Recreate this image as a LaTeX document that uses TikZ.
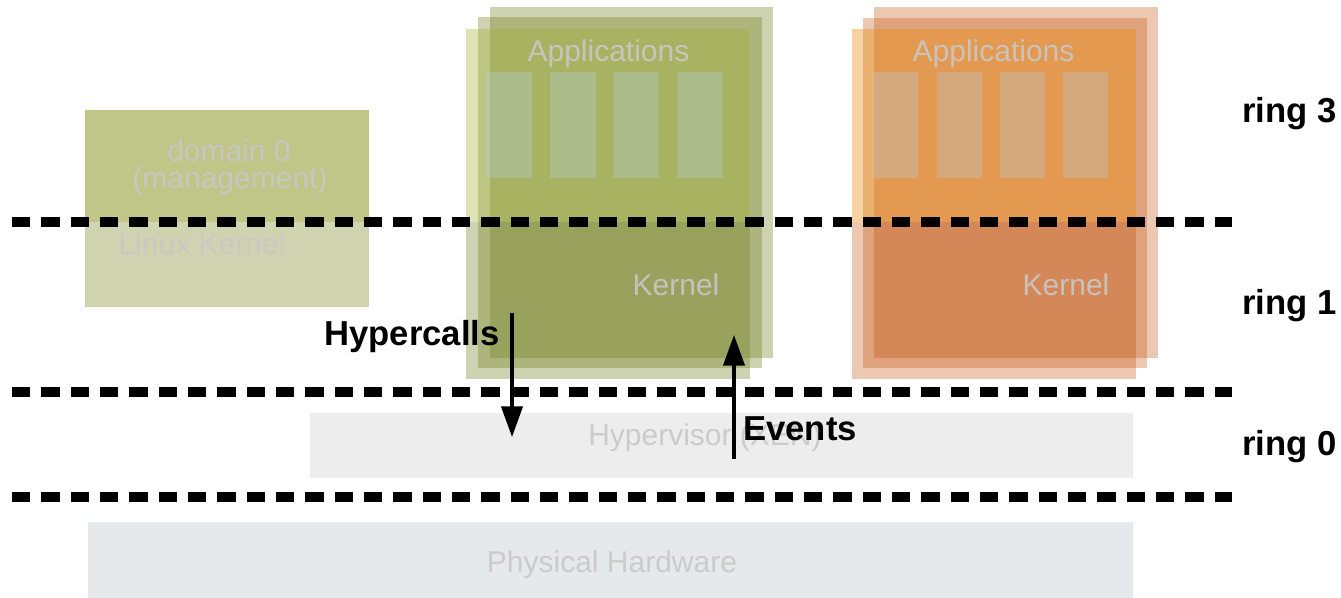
\documentclass[tikz,border=0pt]{standalone}
\usepackage{fontspec}
\setmainfont{Liberation Sans}
\usetikzlibrary{arrows.meta}

% palette
\definecolor{domtop}{HTML}{BFC688}
\definecolor{dombot}{HTML}{CFD3B0}
\definecolor{olivelayer}{HTML}{748224}
\definecolor{olivefront}{HTML}{A1B232}
\definecolor{rustlayer}{HTML}{BF4A00}
\definecolor{rustfront}{HTML}{EB8E11}
\definecolor{appslot}{HTML}{B6CEE7}
\definecolor{hypfill}{HTML}{EDEDED}
\definecolor{hwfill}{HTML}{E5E9EB}
\definecolor{softtext}{HTML}{C8C8C8}

\begin{document}
\begin{tikzpicture}[x=0.75pt,y=-0.75pt,
  boxtext/.style={font=\fontsize{22.5}{20}\selectfont, text=softtext, text opacity=0.9, inner sep=0pt, anchor=base},
  boldlbl/.style={font=\bfseries\fontsize{26}{30}\selectfont, inner sep=0pt},
  ringsep/.style={line width=7pt, dash pattern=on 13.7pt off 8.3pt},
  flow/.style={line width=2.3pt, -{Triangle[length=23pt,width=16pt]}},
  olayer/.style={fill=olivelayer, fill opacity=0.36},
  rlayer/.style={fill=rustlayer, fill opacity=0.30},
  slot/.style={fill=appslot, fill opacity=0.30},
]
\useasboundingbox (0,0) rectangle (1341,598);

% ---- domain 0 (management) ----
\fill[domtop] (85,110) rectangle (369,222);
\fill[dombot] (85,222) rectangle (369,307);
\node[boxtext] (dom0a) at (229,162) {domain 0};
\node[boxtext] (dom0b) at (230,189) {(management)};
\node[boxtext] (dom0k) at (202,255) {Linux Kernel};

% ---- guest domain (green), three stacked layers ----
\fill[olayer] (490,7) rectangle (773,358);
\fill[olayer] (478,17) rectangle (762,368);
\fill[olivefront, fill opacity=0.36] (466,29) rectangle (750,222);
\fill[olayer] (466,222) rectangle (750,379);
\foreach \xa in {486,550,613,677}
  \fill[slot] (\xa,72) rectangle ++(46,106);
\node[boxtext] (gapps) at (608.5,62) {Applications};
\node[boxtext] (gkern) at (676,296) {Kernel};

% ---- guest domain (orange), three stacked layers ----
\fill[rlayer] (874,7) rectangle (1158,358);
\fill[rlayer] (863,18) rectangle (1147,368);
\fill[rustfront, fill opacity=0.40] (852,29) rectangle (1136,222);
\fill[rlayer] (852,222) rectangle (1136,379);
\foreach \xa in {873,937,1000,1063}
  \fill[slot] (\xa,72) rectangle ++(45,106);
\node[boxtext] (oapps) at (993.5,62) {Applications};
\node[boxtext] (okern) at (1066,296) {Kernel};

% ---- hypervisor and hardware ----
\fill[hypfill] (310,413) rectangle (1133,478);
\node[boxtext, anchor=base west] (hyp) at (588,445) {Hypervisor (XEN)};
\fill[hwfill] (88,522) rectangle (1133,598);
\node[boxtext] (hw) at (612,572) {Physical Hardware};

% ---- privilege ring separators ----
\coordinate (s1a) at (12,222);  \coordinate (s1b) at (1232,222);
\coordinate (s2a) at (12,392);  \coordinate (s2b) at (1232,392);
\coordinate (s3a) at (12,497);  \coordinate (s3b) at (1232,497);
\draw[ringsep] (s1a) -- (s1b);
\draw[ringsep] (s2a) -- (s2b);
\draw[ringsep] (s3a) -- (s3b);

\node[boldlbl, anchor=base west] (r3) at (1242,123) {ring 3};
\node[boldlbl, anchor=base west] (r1) at (1242,315) {ring 1};
\node[boldlbl, anchor=base west] (r0) at (1242,455) {ring 0};

% ---- hypercalls down, events up ----
\coordinate (hcfrom) at (512,313);
\coordinate (hcto) at (512,437);
\coordinate (evfrom) at (734,459);
\coordinate (evto) at (734,335);
\draw[flow] (hcfrom) -- (hcto);
\draw[flow] (evfrom) -- (evto);
\node[boldlbl, anchor=base east] (hc) at (500,345) {Hypercalls};
\node[boldlbl, anchor=base west] (ev) at (743,440) {Events};
\end{tikzpicture}
\end{document}
